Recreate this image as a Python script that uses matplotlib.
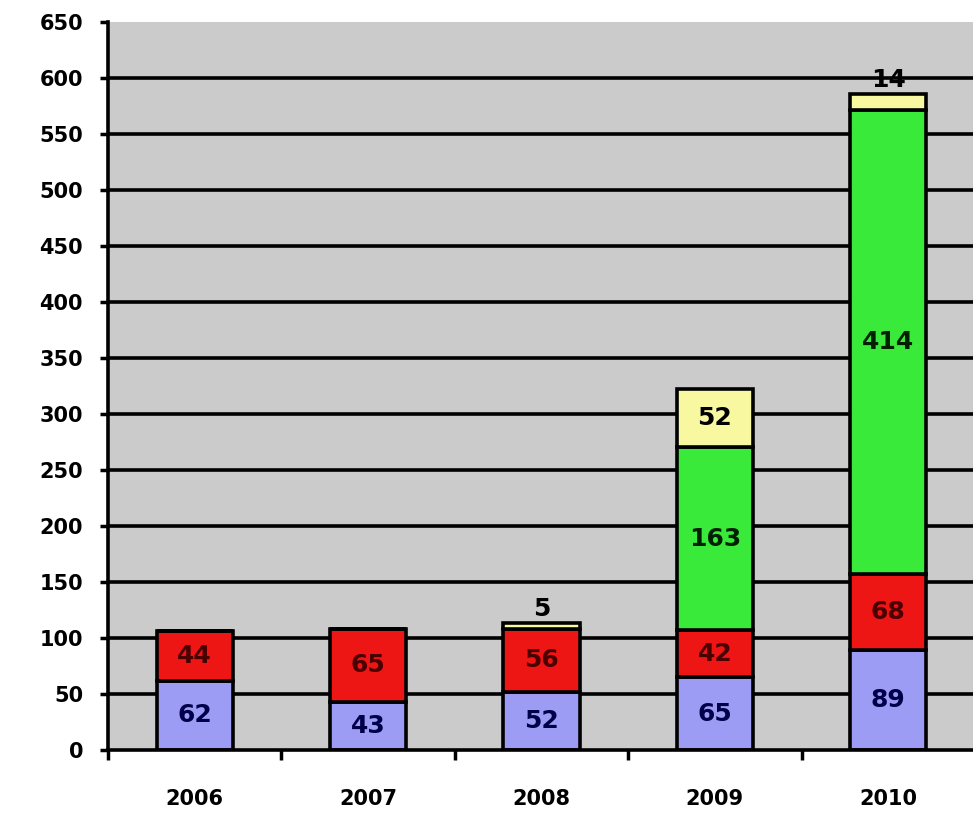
import numpy as np
import matplotlib
matplotlib.use("Agg")
import matplotlib.pyplot as plt

years = ['2006', '2007', '2008', '2009', '2010']
blue_vals = [62, 43, 52, 65, 89]
red_vals = [44, 65, 56, 42, 68]
green_vals = [0, 0, 0, 163, 414]
yellow_vals = [0, 0, 5, 52, 14]

series = [blue_vals, red_vals, green_vals, yellow_vals]
colors = ['#9C9CF4', '#EE1515', '#3AEA3A', '#F8F8A0']
text_colors = ['#00004A', '#4A0000', '#002000', '#000000']

fig = plt.figure(figsize=(9.73, 8.13), dpi=100)
ax = fig.add_axes([0.111, 0.0775, 0.891, 0.896])
ax.set_facecolor('#CBCBCB')

x = np.arange(len(years))
width = 0.44

# gridlines (no line at the very top)
for yv in np.arange(50, 601, 50):
    ax.axhline(yv, color='black', lw=2.6, zorder=1)

bottom = np.zeros(len(years))
for vals, col, tcol in zip(series, colors, text_colors):
    vals = np.array(vals, dtype=float)
    ax.bar(x, vals, width, bottom=bottom, color=col, edgecolor='black',
           linewidth=2.6, zorder=2)
    for i, v in enumerate(vals):
        if v <= 0:
            continue
        if v < 20:
            ax.text(x[i], bottom[i] + v + 2, str(int(v)), ha='center', va='bottom',
                    fontsize=18, fontweight='bold', color='black', zorder=4)
        else:
            ax.text(x[i], bottom[i] + v / 2, str(int(v)), ha='center', va='center',
                    fontsize=18, fontweight='bold', color=tcol, zorder=4)
    bottom += vals

ax.set_xlim(-0.5, len(years) - 0.5)
ax.set_ylim(0, 650)
ax.set_yticks(np.arange(0, 651, 50))
ax.set_yticklabels([str(v) for v in np.arange(0, 651, 50)], fontsize=15, fontweight='bold')
ax.set_xticks(x)
ax.set_xticklabels(years, fontsize=15, fontweight='bold')
ax.tick_params(axis='x', length=0, pad=28)
ax.tick_params(axis='y', length=6, width=2.5, direction='out', pad=12)
ax.set_xticks(np.arange(-0.5, len(years), 1), minor=True)
ax.tick_params(axis='x', which='minor', length=7, width=2.5, direction='out')

ax.spines['top'].set_visible(False)
ax.spines['right'].set_visible(False)
ax.spines['left'].set_linewidth(2.6)
ax.spines['bottom'].set_linewidth(2.6)

fig.savefig('out.png', dpi=100, facecolor='white')
